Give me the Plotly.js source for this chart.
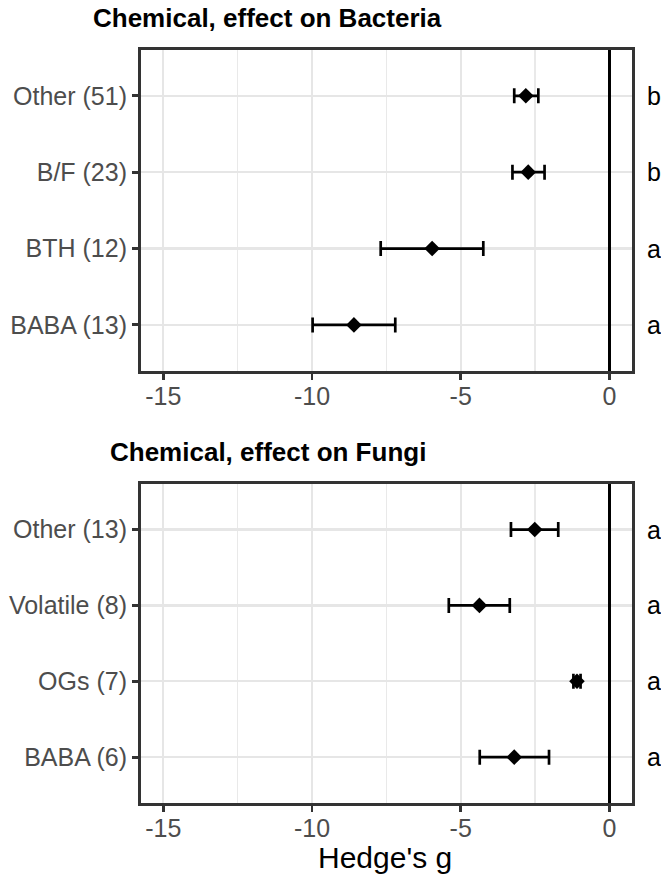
<!DOCTYPE html>
<html>
<head>
<meta charset="utf-8">
<script src="https://cdn.plot.ly/plotly-3.0.1.min.js"></script>
<style>
body{margin:0;background:#fff;}
#chart{width:661px;height:878px;}
</style>
</head>
<body>
<div id="chart"></div>
<script>
// top panel: bacteria
const bactLabels=["BABA (13)","BTH (12)","B/F (23)","Other (51)"];
const bactG=[-8.59,-5.96,-2.73,-2.81];
const bactLow=[-9.98,-7.69,-3.26,-3.20];
const bactHigh=[-7.20,-4.24,-2.18,-2.39];
const bactLetters=["a","a","b","b"];

// bottom panel: fungi
const fungiLabels=["BABA (6)","OGs (7)","Volatile (8)","Other (13)"];
const fungiG=[-3.20,-1.09,-4.37,-2.51];
const fungiLow=[-4.36,-1.21,-5.40,-3.31];
const fungiHigh=[-2.03,-0.97,-3.35,-1.72];
const fungiLetters=["a","a","a","a"];

const xTicks=[-15,-10,-5,0];

function positions(labels){
return labels.map((d,i)=>i+1);
}

function makeTrace(labels,g,low,high,xa,ya){
return {
x:g,
y:positions(labels),
xaxis:xa,
yaxis:ya,
type:"scatter",
mode:"markers",
marker:{symbol:"diamond",size:12,color:"#000"},
error_x:{
type:"data",
symmetric:false,
array:g.map((v,i)=>high[i]-v),
arrayminus:g.map((v,i)=>v-low[i]),
color:"#000",
thickness:2.7,
width:7.5
},
showlegend:false,
hoverinfo:"x+y"
};
}

function xAxis(domain,anchor){
return {
domain:domain,
anchor:anchor,
range:[-15.75,0.75],
tickvals:xTicks,
ticktext:xTicks.map(String),
ticks:"outside",
ticklen:6,
tickwidth:2.8,
tickcolor:"#333",
ticklabelstandoff:-5,
tickfont:{family:"Liberation Sans, Arial, sans-serif",size:25,color:"#4D4D4D"},
showgrid:true,
gridcolor:"#E6E6E6",
gridwidth:2.2,
minor:{tickvals:[-12.5,-7.5,-2.5],showgrid:true,gridcolor:"#E9E9E9",gridwidth:1.2,ticks:""},
zeroline:true,
zerolinecolor:"#000",
zerolinewidth:2.5,
showline:true,
mirror:true,
linecolor:"#333",
linewidth:3,
fixedrange:true
};
}

function yAxis(domain,anchor,labels){
return {
domain:domain,
anchor:anchor,
range:[0.4,4.6],
tickvals:positions(labels),
ticktext:labels,
ticks:"outside",
ticklen:6,
tickwidth:2.8,
tickcolor:"#333",
tickfont:{family:"Liberation Sans, Arial, sans-serif",size:25,color:"#4D4D4D"},
showgrid:true,
gridcolor:"#E6E6E6",
gridwidth:2.2,
zeroline:false,
showline:true,
mirror:true,
linecolor:"#333",
linewidth:3,
fixedrange:true
};
}

function letterNotes(letters,yref){
return letters.map((t,i)=>({
text:t,
xref:"paper",
yref:yref,
x:654/661,
y:i+1,
xanchor:"center",
yanchor:"middle",
showarrow:false,
font:{family:"Liberation Sans, Arial, sans-serif",size:25,color:"#000"}
}));
}

const titleFont={family:"Liberation Sans, Arial, sans-serif",size:26,color:"#000"};

const annotations=[
{text:"<b>Chemical, effect on Bacteria</b>",xref:"paper",yref:"paper",x:91/661,y:(878-17.5)/878,
xanchor:"left",yanchor:"middle",showarrow:false,font:titleFont},
{text:"<b>Chemical, effect on Fungi</b>",xref:"paper",yref:"paper",x:108/661,y:(878-452)/878,
xanchor:"left",yanchor:"middle",showarrow:false,font:titleFont},
{text:"Hedge's g",xref:"paper",yref:"paper",x:385/661,y:(878-857)/878,
xanchor:"center",yanchor:"middle",showarrow:false,
font:{family:"Liberation Sans, Arial, sans-serif",size:30,color:"#000"}}
].concat(letterNotes(bactLetters,"y"),letterNotes(fungiLetters,"y2"));

const xDom=[141/661,631.7/661];

const layout={
width:661,
height:878,
margin:{l:0,r:0,t:0,b:0},
paper_bgcolor:"#fff",
plot_bgcolor:"#fff",
xaxis:xAxis(xDom,"y"),
yaxis:yAxis([(878-370.7)/878,(878-50)/878],"x",bactLabels),
xaxis2:xAxis(xDom,"y2"),
yaxis2:yAxis([(878-802.7)/878,(878-484)/878],"x2",fungiLabels),
annotations:annotations
};

Plotly.newPlot("chart",[
makeTrace(bactLabels,bactG,bactLow,bactHigh,"x","y"),
makeTrace(fungiLabels,fungiG,fungiLow,fungiHigh,"x2","y2")
],layout,{displayModeBar:false,staticPlot:true});
</script>
</body>
</html>
